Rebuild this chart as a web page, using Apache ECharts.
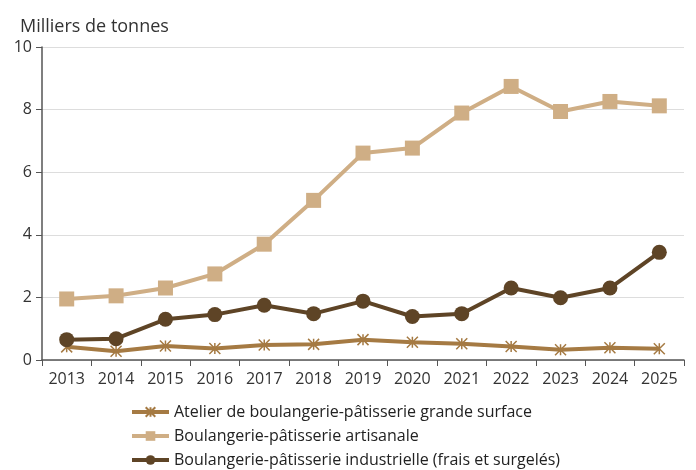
<!DOCTYPE html>
<html><head><meta charset="utf-8">
<script src="https://cdn.jsdelivr.net/npm/echarts@6/dist/echarts.min.js"></script>
<style>html,body{margin:0;padding:0;background:#fff}#c{width:696px;height:470px}</style>
</head><body><div id="c"></div>
<script>
const years = ['2013','2014','2015','2016','2017','2018','2019','2020','2021','2022','2023','2024','2025'];
const atelier = [0.42,0.28,0.45,0.37,0.48,0.50,0.65,0.57,0.52,0.43,0.33,0.39,0.36];
const artisanale = [1.95,2.05,2.30,2.75,3.70,5.10,6.61,6.77,7.89,8.74,7.94,8.26,8.12];
const industrielle = [0.65,0.68,1.30,1.45,1.75,1.48,1.88,1.39,1.48,2.30,1.99,2.30,3.44];
const names = ['Atelier de boulangerie-pâtisserie grande surface','Boulangerie-pâtisserie artisanale','Boulangerie-pâtisserie industrielle (frais et surgelés)'];
const unit = 'Milliers de tonnes';
const ff = '"Open Sans", Lato, sans-serif';
const chart = echarts.init(document.getElementById('c'));
chart.setOption({
  animation:false,
  textStyle:{fontFamily:ff},
  title:{text:unit,left:15,top:13,textStyle:{fontFamily:ff,fontSize:18,fontWeight:'normal',color:'#333'}},
  grid:{left:42,right:12,top:47,bottom:110},
  legend:{orient:'vertical',left:125,top:399,height:90,itemGap:8,itemWidth:37,itemHeight:12,
    padding:[5,5,0,5],
    lineStyle:{width:4},
    textStyle:{fontFamily:ff,fontSize:16,color:'#222'},data:names},
  xAxis:{type:'category',data:years,boundaryGap:true,
    axisLine:{lineStyle:{color:'#555',width:1.5}},
    axisTick:{show:true,length:6,lineStyle:{color:'#555'}},
    axisLabel:{fontSize:16,color:'#333',margin:11}},
  yAxis:{type:'value',min:0,max:10,interval:2,
    axisLine:{show:true,lineStyle:{color:'#555',width:1.5}},
    axisTick:{show:true,length:6,lineStyle:{color:'#555'}},
    splitLine:{lineStyle:{color:'#ddd'}},
    axisLabel:{fontSize:16,color:'#333',margin:10}},
  series:[
    {name:names[0],type:'line',data:atelier,symbol:'path://M0,0L10,10M10,0L0,10M5,0L5,10',symbolSize:11,
     lineStyle:{color:'#A57A43',width:4},itemStyle:{color:'#A57A43',borderColor:'#A57A43',borderWidth:1.5}},
    {name:names[1],type:'line',data:artisanale,symbol:'rect',symbolSize:15,
     lineStyle:{color:'#CFAE85',width:4},itemStyle:{color:'#CFAE85'}},
    {name:names[2],type:'line',data:industrielle,symbol:'circle',symbolSize:15,
     lineStyle:{color:'#5E4426',width:4},itemStyle:{color:'#5E4426'}}
  ]
});
</script></body></html>
